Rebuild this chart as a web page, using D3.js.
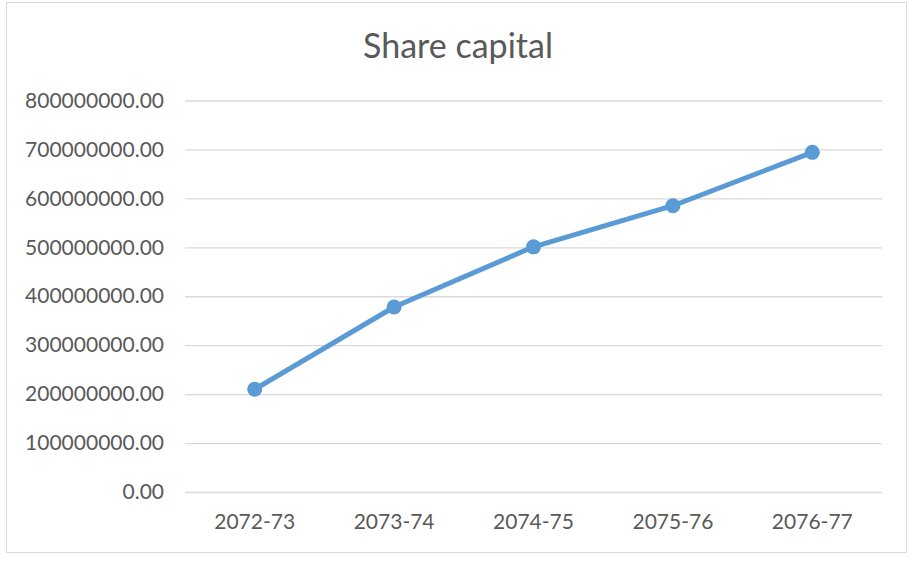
<!DOCTYPE html>
<html>
<head>
<meta charset="utf-8">
<script src="https://cdn.jsdelivr.net/npm/d3@7"></script>
<style>
  body { margin: 0; background: #fff; }
  text { font-family: Lato, "Open Sans", sans-serif; fill: #595959; }
</style>
</head>
<body>
<svg id="chart" width="911" height="570"></svg>
<script>
// Data
var years = ["2072-73", "2073-74", "2074-75", "2075-76", "2076-77"];
var shareCapital = [210000000, 378000000, 501000000, 585000000, 694000000];
var yTicks = [0, 100000000, 200000000, 300000000, 400000000, 500000000, 600000000, 700000000, 800000000];

var svg = d3.select("#chart");
var margin = {top: 100.5, left: 185, bottom: 492, right: 882};
var blue = "#5b9bd5";

// chart frame
svg.append("rect")
   .attr("x", 6.5).attr("y", 2.5)
   .attr("width", 900).attr("height", 550)
   .attr("fill", "#fff")
   .attr("stroke", "#d9d9d9")
   .attr("stroke-width", 1);

svg.append("text")
   .attr("x", 458).attr("y", 58)
   .attr("text-anchor", "middle")
   .style("font-size", "34px")
   .text("Share capital");

var x = d3.scaleBand()
          .domain(years)
          .range([margin.left, margin.right])
          .padding(0);

var y = d3.scaleLinear()
          .domain([0, 800000000])
          .range([margin.bottom, margin.top]);

var yAxis = svg.append("g")
   .attr("transform", "translate(" + margin.left + ",0)")
   .call(d3.axisLeft(y)
           .tickValues(yTicks)
           .tickSize(-(margin.right - margin.left))
           .tickPadding(21)
           .tickFormat(d3.format(".2f")));
yAxis.select(".domain").remove();
yAxis.selectAll(".tick line")
     .attr("stroke", "#d9d9d9")
     .attr("stroke-width", 1.3);
yAxis.selectAll(".tick text")
     .style("font-size", "21px")
     .attr("fill", "#595959");

var xAxis = svg.append("g")
   .attr("transform", "translate(0," + margin.bottom + ")")
   .call(d3.axisBottom(x).tickSize(0).tickPadding(22));
xAxis.select(".domain").remove();
xAxis.selectAll(".tick text")
     .style("font-size", "21px")
     .attr("fill", "#595959");

var points = years.map(function(d, i) { return {year: d, value: shareCapital[i]}; });
var cx = function(d) { return x(d.year) + x.bandwidth() / 2; };

var line = d3.line()
             .x(cx)
             .y(function(d) { return y(d.value); });

svg.append("path")
   .datum(points)
   .attr("fill", "none")
   .attr("stroke", blue)
   .attr("stroke-width", 5)
   .attr("stroke-linejoin", "round")
   .attr("stroke-linecap", "round")
   .attr("d", line);

svg.selectAll("circle.marker")
   .data(points)
   .enter().append("circle")
   .attr("class", "marker")
   .attr("cx", cx)
   .attr("cy", function(d) { return y(d.value); })
   .attr("r", 7.5)
   .attr("fill", blue);
</script>
</body>
</html>
